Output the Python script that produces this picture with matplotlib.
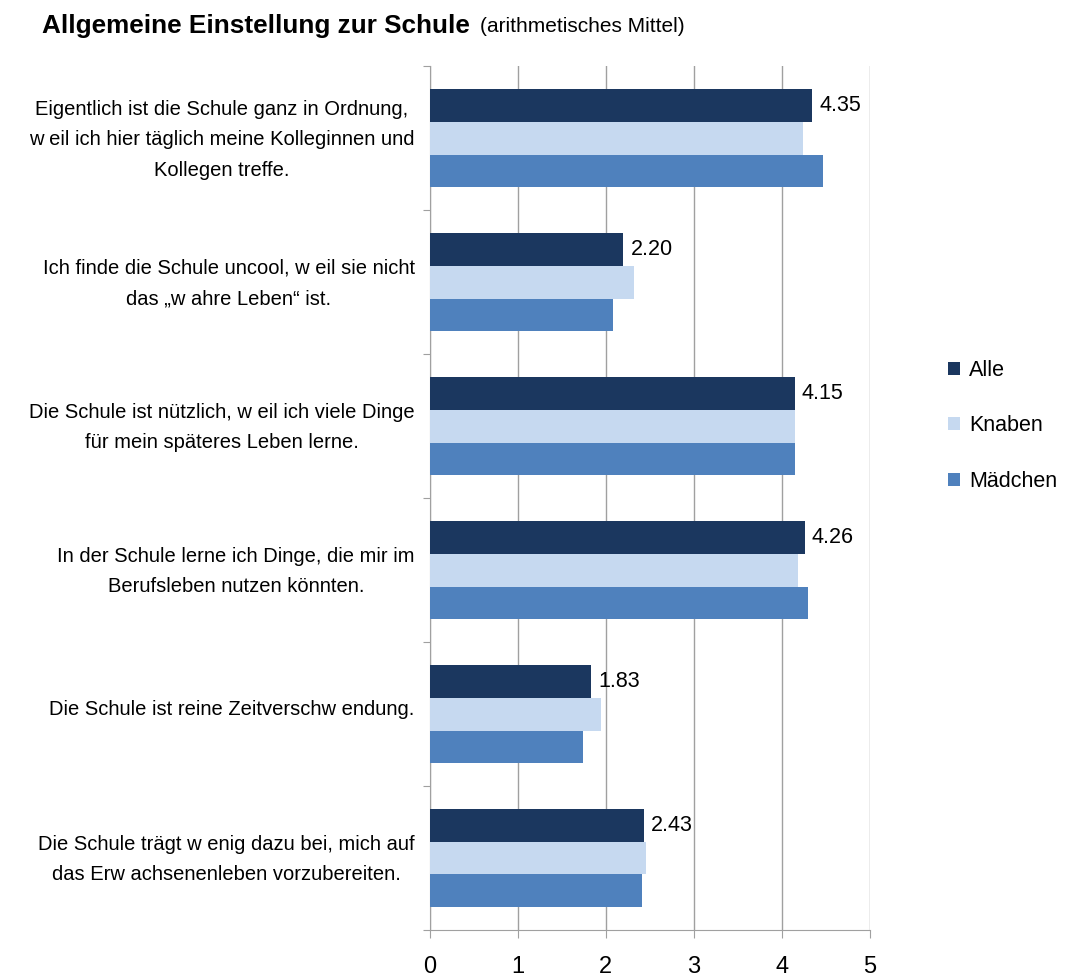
import matplotlib
matplotlib.use("Agg")
import matplotlib.pyplot as plt
import numpy as np

plt.rcParams["font.family"] = ["Liberation Sans", "DejaVu Sans"]

categories = [
    "Eigentlich ist die Schule ganz in Ordnung,\nw eil ich hier täglich meine Kolleginnen und\nKollegen treffe.",
    "Ich finde die Schule uncool, w eil sie nicht\ndas „w ahre Leben“ ist.",
    "Die Schule ist nützlich, w eil ich viele Dinge\nfür mein späteres Leben lerne.",
    "In der Schule lerne ich Dinge, die mir im\nBerufsleben nutzen könnten.",
    "Die Schule ist reine Zeitverschw endung.",
    "Die Schule trägt w enig dazu bei, mich auf\ndas Erw achsenenleben vorzubereiten.",
]
series_names = ["Alle", "Knaben", "Mädchen"]
alle = [4.35, 2.20, 4.15, 4.26, 1.83, 2.43]
knaben = [4.24, 2.32, 4.15, 4.19, 1.94, 2.46]
maedchen = [4.47, 2.08, 4.15, 4.30, 1.74, 2.41]
colors = ["#1b375f", "#c6d9f0", "#4f81bd"]

fig = plt.figure(figsize=(10.67, 9.76), dpi=100)
ax = fig.add_axes([0.403, 0.047, 0.412, 0.885])

y = np.arange(len(categories))
h = 0.227
for k, (vals, name, col) in enumerate(zip([alle, knaben, maedchen], series_names, colors)):
    ax.barh(y + (k - 1) * h, vals, height=h, color=col, label=name, zorder=3)

# value labels for "Alle"
for yi, v in zip(y, alle):
    ax.text(v + 0.08, yi - h, f"{v:.2f}", va="center", ha="left", fontsize=15.5, zorder=4)

ax.set_xlim(0, 5)
ax.set_ylim(len(categories) - 0.5, -0.5)
ax.set_xticks(range(6))
ax.tick_params(axis="x", labelsize=17, length=5.5, color="#a0a0a0", pad=13)
ax.grid(axis="x", color="#a0a0a0", linewidth=1, zorder=0)

# group boundaries as major ticks, category names as (invisible) minor ticks
ax.set_yticks(np.arange(len(categories) + 1) - 0.5)
ax.set_yticklabels([])
ax.set_yticks(y - 0.045, minor=True)
ax.set_yticklabels(categories, minor=True, fontsize=14.5, ha="right",
                   multialignment="center", linespacing=1.78)
ax.tick_params(axis="y", which="major", length=5, color="#a0a0a0")
ax.tick_params(axis="y", which="minor", length=0, pad=11)

for s in ["top", "right"]:
    ax.spines[s].set_visible(False)
for s in ["left", "bottom"]:
    ax.spines[s].set_color("#a0a0a0")

ax.legend(loc="center left", bbox_to_anchor=(1.134, 0.584), frameon=False,
          fontsize=15.5, handlelength=0.55, handleheight=0.55, handletextpad=0.45,
          labelspacing=1.6)

t = fig.text(42 / 1067, 1 - 26 / 976, "Allgemeine Einstellung zur Schule",
             fontsize=18.8, fontweight="bold", va="center", ha="left")
fig.canvas.draw()
bb = t.get_window_extent()
fig.text((bb.x1 + 10) / 1067, 1 - 27 / 976, "(arithmetisches Mittel)",
         fontsize=15, va="center", ha="left")

fig.savefig("out.png", dpi=100)
